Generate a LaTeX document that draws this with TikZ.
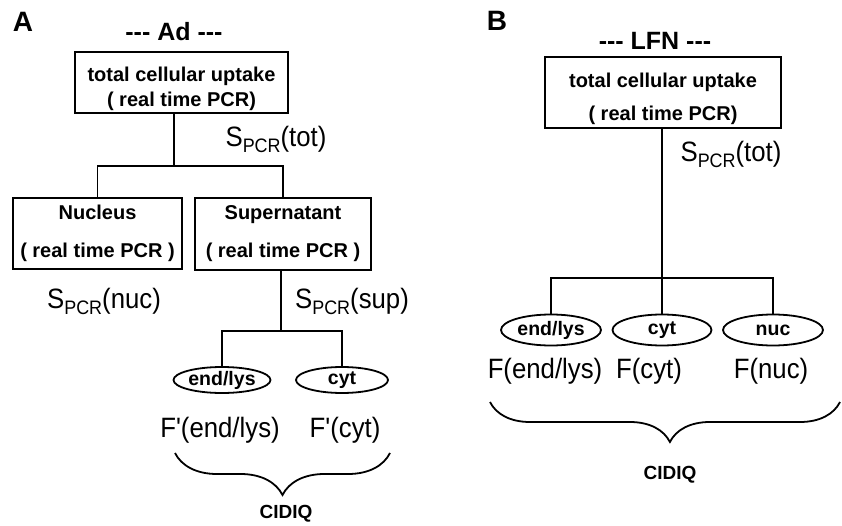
\documentclass[tikz,border=0pt]{standalone}
\usepackage{fontspec}
\setmainfont{Liberation Sans}
\newfontfamily\labfont{Liberation Sans}[FakeStretch=0.92]
\newfontfamily\headfont{Liberation Sans}
\usetikzlibrary{shapes.geometric, decorations.pathreplacing}

\newcommand{\spcr}[1]{S\raisebox{-6pt}{\fontsize{19.5}{19.5}\selectfont PCR}(#1)}
\newcommand{\lowtext}{\rule{0pt}{27pt}}

\begin{document}
\begin{tikzpicture}[x=1pt, y=-1pt, line width=1.8pt,
		box/.style={draw, rectangle, align=center, inner sep=0pt, font=\fontsize{20}{24}\selectfont\bfseries},
		comp/.style={draw, ellipse, inner sep=0pt, font=\fontsize{19.5}{19.5}\selectfont\bfseries},
		lab/.style={anchor=base, font=\labfont\fontsize{28}{28}\selectfont},
		head/.style={font=\headfont\fontsize{25}{25}\selectfont\bfseries},
		panel/.style={font=\fontsize{28}{28}\selectfont\bfseries},
		cidiq/.style={font=\fontsize{19}{19}\selectfont\bfseries}]
	\useasboundingbox (0,0) rectangle (842,526);

	\begin{scope}
		\node [panel] (panA) at (23,22) {A};
		\node [head] (headA) at (174,32) {--- Ad ---};
		\node [box, minimum width=213pt, minimum height=61pt] (totA) at (181.5,82.5) {\lowtext total cellular uptake\\[1pt]( real time PCR)};
		\node [box, minimum width=169pt, minimum height=71pt] (nucA) at (97.5,233.5) {Nucleus\\[14pt]( real time PCR )};
		\node [box, minimum width=176pt, minimum height=72pt] (supA) at (283,234) {Supernatant\\[14pt]( real time PCR )};
		\node [comp, minimum width=97pt, minimum height=26pt] (endA) at (222,380) {end/lys};
		\node [comp, minimum width=92pt, minimum height=26pt] (cytA) at (342,380) {cyt};

		\node [lab] (stotA) at (276,147) {\spcr{tot}};
		\node [lab] (snucA) at (104,308) {\spcr{nuc}};
		\node [lab] (ssupA) at (352,308) {\spcr{sup}};
		\node [lab] (fendA) at (220,437) {F'(end/lys)};
		\node [lab] (fcytA) at (345,437) {F'(cyt)};
		\node [cidiq] (cidiqA) at (286,514) {CIDIQ};

		\coordinate (splitA) at (174,166);
		\coordinate (subA) at (281,331);
		\coordinate (braceAl) at (175,453);
		\coordinate (braceAr) at (390,453);
	\end{scope}

	\begin{scope}
		\draw (totA.south -| splitA) -- (splitA);
		\draw (nucA.north) |- (splitA) -| (supA.north);
		\draw (supA.south -| subA) -- (subA);
		\draw (endA.north) |- (subA) -| (cytA.north);
		\draw [decorate, decoration={brace, mirror, amplitude=42pt}] (braceAl) -- (braceAr);
	\end{scope}

	\begin{scope}
		\node [panel] (panB) at (497,21) {B};
		\node [head] (headB) at (655,41) {--- LFN ---};
		\node [box, minimum width=236pt, minimum height=71pt] (totB) at (663,92.5) {\lowtext total cellular uptake\\[9pt]( real time PCR)};
		\node [comp, minimum width=100pt, minimum height=31pt] (endB) at (551,330) {end/lys};
		\node [comp, minimum width=99pt, minimum height=31pt] (cytB) at (662,330) {cyt};
		\node [comp, minimum width=100pt, minimum height=31pt] (nucB) at (773,330) {nuc};

		\node [lab] (stotB) at (731,162) {\spcr{tot}};
		\node [lab] (fendB) at (545,378) {F(end/lys)};
		\node [lab] (fcytB) at (649,378) {F(cyt)};
		\node [lab] (fnucB) at (771,378) {F(nuc)};
		\node [cidiq] (cidiqB) at (670,475) {CIDIQ};

		\coordinate (splitB) at (662,278);
		\coordinate (braceBl) at (490,402);
		\coordinate (braceBr) at (840,402);
	\end{scope}

	\begin{scope}
		\draw (totB.south -| splitB) -- (cytB.north);
		\draw (endB.north) |- (splitB) -| (nucB.north);
		\draw [decorate, decoration={brace, mirror, amplitude=40pt, aspect=0.514}] (braceBl) -- (braceBr);
	\end{scope}
\end{tikzpicture}
\end{document}
